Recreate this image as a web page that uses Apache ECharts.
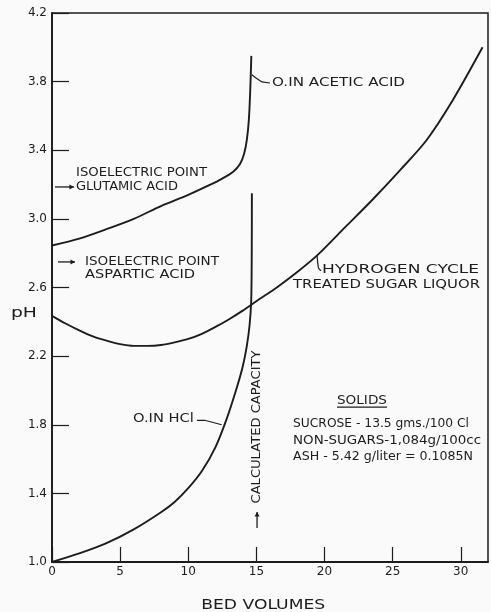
<!DOCTYPE html>
<html><head><meta charset="utf-8">
<script src="https://cdn.jsdelivr.net/npm/echarts@6/dist/echarts.min.js"></script>
<style>html,body{margin:0;padding:0;background:#fafafa}#c{width:491px;height:612px}</style>
</head><body><div id="c"></div>
<script>
// Data (bed volumes, pH)
const aceticAcid = [[0,2.845],[2,2.885],[4,2.94],[6,3.0],[8,3.075],[10,3.14],[11.5,3.195],[12.5,3.235],[13.3,3.275],[13.8,3.32],[14.1,3.38],[14.3,3.46],[14.45,3.58],[14.55,3.75],[14.63,3.95]];
const hcl = [[0,1.0],[2,1.05],[4,1.11],[6,1.19],[8,1.29],[9,1.35],[10,1.43],[11,1.53],[12,1.67],[12.8,1.83],[13.5,2.0],[14,2.14],[14.3,2.26],[14.5,2.38],[14.62,2.52],[14.66,2.8],[14.67,3.15]];
const sugarLiquor = [[0,2.435],[1,2.39],[2,2.35],[3,2.315],[4,2.29],[5,2.27],[6,2.26],[7,2.26],[8,2.265],[9,2.28],[10,2.30],[11,2.33],[12,2.37],[13,2.415],[14,2.465],[15,2.52],[16.5,2.6],[18,2.69],[19.5,2.79],[21.5,2.95],[23.5,3.11],[25.5,3.28],[27.5,3.46],[29.4,3.69],[31.6,4.0]];
const xTicks = {min:0, max:32, interval:5};
const yTicks = {min:1.0, max:4.2, interval:0.4};
const solidsLines = ["SUCROSE - 13.5 gms./100 Cl","NON-SUGARS-1,084g/100cc","ASH - 5.42 g/liter = 0.1085N"];

const FONT = "DejaVu Sans";
const INK = "#1c1c1c";
const chart = echarts.init(document.getElementById('c'));
function curve(data){
  return {type:'line', data:data, smooth:0.3, showSymbol:false, symbol:'none',
    lineStyle:{color:INK, width:1.9}, animation:false};
}
chart.setOption({
  backgroundColor:'#fafafa',
  animation:false,
  grid:{left:52, right:3, top:13, bottom:50, show:true, borderColor:INK, borderWidth:1.5, backgroundColor:'transparent'},
  xAxis:{type:'value', min:xTicks.min, max:xTicks.max, interval:xTicks.interval,
    axisLine:{lineStyle:{color:INK, width:1.8}},
    axisTick:{inside:true, length:15, lineStyle:{color:INK, width:1.2}},
    axisLabel:{color:INK, fontFamily:FONT, fontSize:12, margin:4, showMaxLabel:false},
    splitLine:{show:false}},
  yAxis:{type:'value', min:yTicks.min, max:yTicks.max, interval:yTicks.interval,
    axisLine:{lineStyle:{color:INK, width:1.8}},
    axisTick:{inside:true, length:17, lineStyle:{color:INK, width:1.2}},
    axisLabel:{color:INK, fontFamily:FONT, fontSize:12, margin:5, formatter:v=>v.toFixed(1)},
    splitLine:{show:false}},
  series:[curve(aceticAcid), curve(hcl), curve(sugarLiquor)]
});

const mctx = document.createElement('canvas').getContext('2d');
function measure(s, fs){ mctx.font = fs + 'px "' + FONT + '"'; return mctx.measureText(s).width; }
function P(x,y){ return chart.convertToPixel({gridIndex:0},[x,y]); }
// text anchored at data point, stretched horizontally to a given width
function ftext(x,y,s,width,fs,opt){
  opt = opt||{};
  const p = P(x,y);
  const sx = width / measure(s, fs);
  return {type:'text', x:p[0], y:p[1], scaleX:sx, rotation:opt.rotation||0,
    style:{text:s, fill:INK, fontFamily:FONT, fontSize:fs, align:opt.align||'left', verticalAlign:'middle'}, silent:true};
}
function poly(pts,w){ return {type:'polyline', shape:{points:pts.map(q=>P(q[0],q[1]))}, style:{stroke:INK, lineWidth:w||1.2, fill:null}, silent:true}; }
function arrow(x1,y1,x2,y2){
  const a=P(x1,y1), b=P(x2,y2);
  const ang=Math.atan2(b[1]-a[1], b[0]-a[0]);
  const h=4.5, s=2.5;
  const l=[b[0]-h*Math.cos(ang)+s*Math.sin(ang), b[1]-h*Math.sin(ang)-s*Math.cos(ang)], r=[b[0]-h*Math.cos(ang)-s*Math.sin(ang), b[1]-h*Math.sin(ang)+s*Math.cos(ang)];
  return [
    {type:'line', shape:{x1:a[0],y1:a[1],x2:b[0],y2:b[1]}, style:{stroke:INK, lineWidth:1.3}, silent:true},
    {type:'polygon', shape:{points:[b,l,r]}, style:{fill:INK}, silent:true}
  ];
}
const els = [];
// Isoelectric annotations
els.push(ftext(1.76,3.267,'ISOELECTRIC POINT',131,12.5));
els.push(ftext(1.76,3.186,'GLUTAMIC ACID',102,12.5));
els.push(...arrow(0.22,3.186,1.61,3.186));
els.push(ftext(2.42,2.749,'ISOELECTRIC POINT',134,12.5));
els.push(ftext(2.42,2.673,'ASPARTIC ACID',110,12.5));
els.push(...arrow(0.44,2.749,1.69,2.749));
// Acetic acid
els.push(ftext(16.15,3.792,'O.IN ACETIC ACID',133,13));
els.push(poly([[14.66,3.84],[15.0,3.82],[15.41,3.798],[16.0,3.792]]));
// Sugar liquor
els.push(ftext(19.82,2.702,'HYDROGEN CYCLE',157,13));
els.push(ftext(17.69,2.615,'TREATED SUGAR LIQUOR',187,13));
els.push(poly([[19.45,2.789],[19.5,2.745],[19.55,2.715],[19.7,2.70],[19.75,2.70]]));
// HCl
els.push(ftext(5.94,1.834,'O.IN HCl',61,12.5));
els.push(poly([[10.64,1.826],[11.2,1.826],[11.7,1.816],[12.45,1.80]]));
// Calculated capacity (vertical text with arrow)
els.push(ftext(15.05,1.787,'CALCULATED CAPACITY',153,12,{align:'center', rotation:Math.PI/2}));
els.push(...arrow(15.05,1.198,15.05,1.291));
// Solids block
els.push(ftext(22.75,1.938,'SOLIDS',50,12.5,{align:'center'}));
els.push(poly([[20.92,1.903],[24.59,1.903]],1.1));
const solidsW = [176,188,180];
solidsLines.forEach((s,i)=>els.push(ftext(17.69,1.804-i*0.096,s,solidsW[i],13)));
// axis titles
els.push(ftext(-2.06,2.45,'pH',26,14,{align:'center'}));
els.push(ftext(15.5,0.748,'BED VOLUMES',124,14.5,{align:'center'}));
chart.setOption({graphic:els});
</script></body></html>
